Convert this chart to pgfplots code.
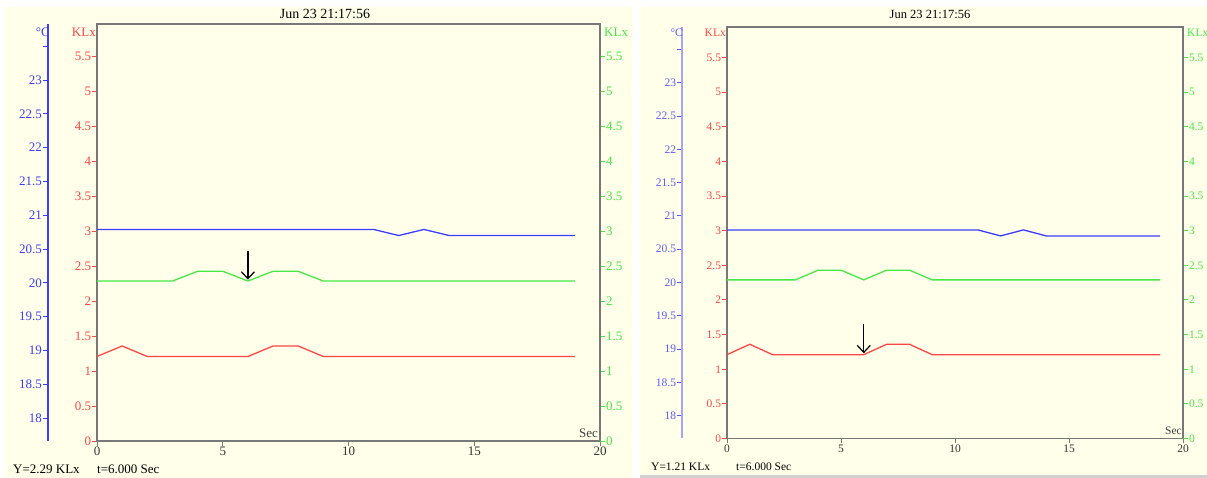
\documentclass[border=0pt]{standalone}
\usepackage{pgfplots}
\pgfplotsset{compat=1.18}
\usepackage{pgfplotstable}
\usepackage{fontspec}
\setmainfont{Liberation Serif}
\usetikzlibrary{arrows.meta}

\definecolor{cream}{RGB}{255,255,234}
\definecolor{myred}{RGB}{255,70,70}
\definecolor{mygreen}{RGB}{70,232,70}
\definecolor{myblue}{RGB}{60,60,255}
\definecolor{lblue}{RGB}{165,165,255}
\definecolor{mblue}{RGB}{90,90,255}
\definecolor{boxgray}{RGB}{120,120,120}

\pgfplotstableread{
t r g b
0 1.21 2.29 20.79
1 1.36 2.29 20.79
2 1.21 2.29 20.79
3 1.21 2.29 20.79
4 1.21 2.43 20.79
5 1.21 2.43 20.79
6 1.21 2.29 20.79
7 1.36 2.43 20.79
8 1.36 2.43 20.79
9 1.21 2.29 20.79
10 1.21 2.29 20.79
11 1.21 2.29 20.79
12 1.21 2.29 20.70
13 1.21 2.29 20.79
14 1.21 2.29 20.70
15 1.21 2.29 20.70
16 1.21 2.29 20.70
17 1.21 2.29 20.70
18 1.21 2.29 20.70
19 1.21 2.29 20.70
}\data

\newcommand{\lf}{\fontsize{13}{15}\selectfont}
\newcommand{\rf}{\fontsize{11.5}{13}\selectfont}

\pgfplotsset{
  base/.style={scale only axis, anchor=south west, xmin=0, xmax=20,
    tick align=outside, major tick length=5pt,
    /pgf/number format/assume math mode=true,
    axis line style={boxgray, line width=1.6pt},
    every tick/.append style={line width=0.9pt}},
}

\begin{document}
\begin{tikzpicture}
\path[use as bounding box] (0pt,0pt) rectangle (1207pt,478pt);
\fill[white] (0pt,0pt) rectangle (1207pt,478pt);
\fill[cream] (5pt,0pt) rectangle (633pt,471pt);
\fill[cream] (640pt,3pt) rectangle (1207pt,471pt);
\fill[black!18] (640pt,0pt) rectangle (1207pt,3pt);

% ================= LEFT PANEL =================
\begin{axis}[base, at={(97pt,37pt)}, width=503pt, height=417pt,
  ymin=0, ymax=5.97,
  xtick={0,5,10,15,20}, ytick={0,0.5,...,5.5},
  xtick pos=bottom, ytick pos=left,
  y tick style={myred}, x tick style={boxgray},
  yticklabel style={text=myred, font=\lf, inner sep=0.8pt},
  xticklabel style={text=black!80, font=\lf, inner sep=1pt}]
\addplot[myred, line width=1.3pt] table[x=t, y=r] {\data};
\draw[-{Straight Barb[length=7pt,width=13pt]}, line width=1.2pt] (axis cs:6,2.72) -- (axis cs:6,2.31);
\end{axis}
\begin{axis}[base, at={(97pt,37pt)}, width=503pt, height=417pt,
  ymin=0, ymax=5.97, axis x line=none, axis y line*=right,
  ytick={0,0.5,...,5.5}, y tick style={mygreen},
  yticklabel style={text=mygreen, font=\lf, inner sep=0.8pt}]
\addplot[mygreen, line width=1.3pt] table[x=t, y=g] {\data};
\end{axis}
\begin{axis}[base, at={(97pt,37pt)}, width=503pt, height=417pt,
  ymin=17.66, ymax=23.83, axis x line=none, axis y line*=left,
  axis y line shift=49pt,
  y axis line style={draw=myblue, line width=1.8pt},
  ytick={18,18.5,...,23.5},
  yticklabels={18,18.5,19,19.5,20,20.5,21,21.5,22,22.5,23,{}},
  y tick style={myblue},
  yticklabel style={text=myblue, font=\lf, inner sep=0.8pt}]
\addplot[myblue, line width=1.3pt] table[x=t, y=b] {\data};
\end{axis}
\node[font=\lf, text=myblue, anchor=base east, inner sep=0] at (50pt,441pt) {°C};
\node[font=\lf, text=myred, anchor=base east, inner sep=0] at (96pt,441pt) {KLx};
\node[font=\lf, text=mygreen, anchor=base west, inner sep=0] at (604pt,441pt) {KLx};
\node[font=\lf, text=black!75, anchor=base east, inner sep=0] at (598pt,40pt) {Sec};
\node[font=\fontsize{14}{16}\selectfont, anchor=base, inner sep=0] at (325pt,459pt) {Jun 23 21:17:56};
\node[font=\lf, anchor=base west, inner sep=0] at (13pt,4pt) {Y=2.29 KLx};
\node[font=\lf, anchor=base west, inner sep=0] at (97pt,4pt) {t=6.000 Sec};

% ================= RIGHT PANEL =================
\begin{axis}[base, at={(727pt,39.5pt)}, width=456pt, height=411.5pt,
  ymin=0, ymax=5.94,
  xtick={0,5,10,15,20}, ytick={0,0.5,...,5.5},
  xtick pos=bottom, ytick pos=left,
  y tick style={myred}, x tick style={boxgray},
  yticklabel style={text=myred, font=\rf, inner sep=0.8pt},
  xticklabel style={text=black!80, font=\rf, inner sep=1pt}]
\addplot[myred, line width=1.3pt] table[x=t, y=r] {\data};
\draw[-{Straight Barb[length=7pt,width=13pt]}, line width=1.2pt] (axis cs:6,1.65) -- (axis cs:6,1.23);
\end{axis}
\begin{axis}[base, at={(727pt,39.5pt)}, width=456pt, height=411.5pt,
  ymin=0, ymax=5.94, axis x line=none, axis y line*=right,
  ytick={0,0.5,...,5.5}, y tick style={mygreen},
  yticklabel style={text=mygreen, font=\rf, inner sep=0.8pt}]
\addplot[mygreen, line width=1.3pt] table[x=t, y=g] {\data};
\end{axis}
\begin{axis}[base, at={(727pt,39.5pt)}, width=456pt, height=411.5pt,
  ymin=17.66, ymax=23.835, axis x line=none, axis y line*=left,
  axis y line shift=45pt,
  y axis line style={draw=lblue, line width=1.8pt},
  ytick={18,18.5,...,23.5},
  yticklabels={18,18.5,19,19.5,20,20.5,21,21.5,22,22.5,23,{}},
  y tick style={mblue},
  yticklabel style={text=mblue, font=\rf, inner sep=0.8pt}]
\addplot[myblue, line width=1.3pt] table[x=t, y=b] {\data};
\end{axis}
\node[font=\rf, text=mblue, anchor=base east, inner sep=0] at (683pt,441pt) {°C};
\node[font=\rf, text=myred, anchor=base east, inner sep=0] at (726pt,441pt) {KLx};
\node[font=\rf, text=mygreen, anchor=base west, inner sep=0] at (1187pt,441pt) {KLx};
\node[font=\rf, text=black!75, anchor=base east, inner sep=0] at (1182pt,43pt) {Sec};
\node[font=\fontsize{12.5}{14}\selectfont, anchor=base, inner sep=0] at (930pt,459pt) {Jun 23 21:17:56};
\node[font=\rf, anchor=base west, inner sep=0] at (651pt,7pt) {Y=1.21 KLx};
\node[font=\rf, anchor=base west, inner sep=0] at (736pt,7pt) {t=6.000 Sec};
\end{tikzpicture}
\end{document}
